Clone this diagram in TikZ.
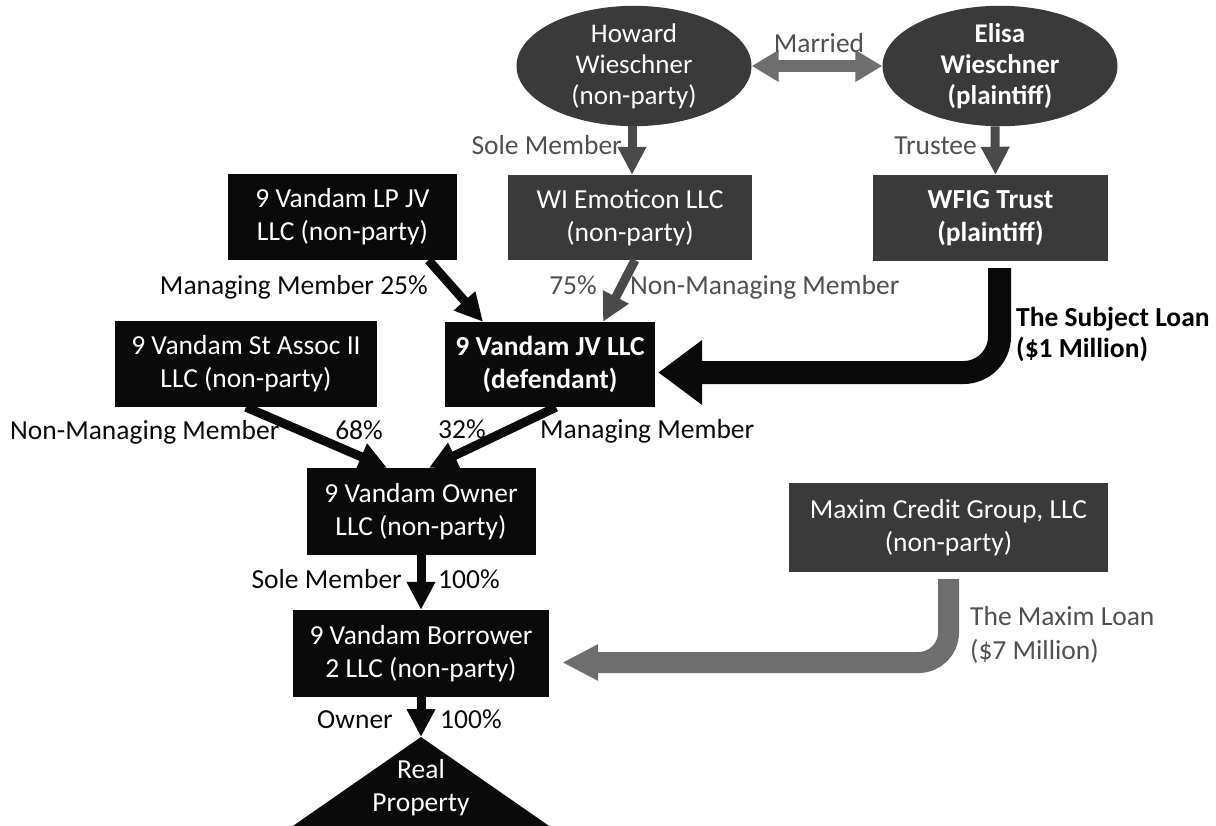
\documentclass[tikz,border=0pt]{standalone}
\usepackage{fontspec}
\setmainfont{Carlito}
\usepackage{tikz}
\usetikzlibrary{arrows.meta,shapes.geometric,calc}
\definecolor{chartInk}{HTML}{0A0A0A}
\definecolor{chartSlate}{HTML}{3A3A3A}
\definecolor{chartGrey}{HTML}{4A4A4A}
\definecolor{chartLoan}{HTML}{6E6E6E}
\definecolor{chartLabel}{HTML}{505050}
\tikzset{
  entity/.style={
    rectangle,
    fill=chartInk,
    text=white,
    inner sep=0pt,
    align=center,
    font=\fontsize{27.5}{33}\selectfont
  },
  entityGrey/.style={
    entity,
    fill=chartSlate
  },
  person/.style={
    ellipse,
    fill=chartSlate,
    text=white,
    inner sep=0pt,
    minimum width=235pt,
    minimum height=98pt,
    align=center,
    font=\fontsize{27}{31}\selectfont
  },
  tag/.style={
    inner sep=0pt,
    text=chartInk,
    text height=19pt,
    text depth=6pt,
    font=\fontsize{27.5}{33}\selectfont
  },
  tagGrey/.style={
    tag,
    text=chartLabel
  },
  ownArrow/.style={
    -{Triangle[length=28pt,width=27pt]},
    line width=9pt,
    draw=chartInk
  },
  ownArrowGrey/.style={
    ownArrow,
    draw=chartGrey
  },
  marriedArrow/.style={
    {Triangle[length=27pt,width=30pt]}-{Triangle[length=27pt,width=30pt]},
    line width=12pt,
    draw=chartLoan
  },
  subjectLoan/.style={
    -{Triangle[length=44pt,width=62pt]},
    line width=23pt,
    rounded corners=36pt,
    draw=chartInk
  },
  maximLoan/.style={
    -{Triangle[length=36pt,width=34pt]},
    line width=21pt,
    rounded corners=30pt,
    draw=chartLoan
  }
}

\begin{document}
\begin{tikzpicture}[x=1pt,y=-1pt]
  \useasboundingbox (0,0) rectangle (1216,825);
  \fill[white] (0,0) rectangle (1216,825);
  \clip (0,0) rectangle (1216,825);

  % people
  \node[person] (howard) at (634,66) {Howard\\Wieschner\\(non-party)};
  \node[person,font=\fontsize{27}{31}\selectfont\bfseries] (elisa) at (1000,66) {Elisa\\Wieschner\\(plaintiff)};

  % entities
  \node[entityGrey,minimum width=244pt,minimum height=85pt] (emoticon) at (630,217.5) {WI Emoticon LLC\\(non-party)};
  \node[entityGrey,minimum width=235pt,minimum height=86pt,font=\fontsize{27.5}{33}\selectfont\bfseries] (wfig) at (990.5,218) {WFIG Trust\\(plaintiff)};
  \node[entity,minimum width=229pt,minimum height=86pt] (lpjv) at (342.5,217) {9 Vandam LP JV\\LLC (non-party)};
  \node[entity,minimum width=210pt,minimum height=85pt,font=\fontsize{27.5}{33}\selectfont\bfseries] (jvllc) at (550,364.5) {9 Vandam JV LLC\\(defendant)};
  \node[entity,minimum width=262pt,minimum height=86pt] (stassoc) at (246,364) {9 Vandam St Assoc II\\LLC (non-party)};
  \node[entity,minimum width=229pt,minimum height=87pt] (owner) at (421,511.5) {9 Vandam Owner\\LLC (non-party)};
  \node[entity,minimum width=256pt,minimum height=87pt] (borrower) at (421,653.5) {9 Vandam Borrower\\2 LLC (non-party)};
  \node[entityGrey,minimum width=319pt,minimum height=89pt] (maxim) at (948.5,527.5) {Maxim Credit Group, LLC\\(non-party)};

  % real property
  \coordinate (apex) at (421,737);
  \fill[chartInk] (apex) -- ++(-180,125) -- ++(360,0) -- cycle;
  \node[entity,fill=none] (property) at (421,788) {Real\\Property};

  % ownership links
  \draw[marriedArrow] (howard.east) -- (elisa.west);
  \draw[ownArrowGrey] ($(howard.south)+(-2,0)$) -- ($(emoticon.north)+(2,0)$);
  \draw[ownArrowGrey] ($(elisa.south)+(-5,0)$) -- ($(wfig.north)+(5,0)$);
  \draw[ownArrow] ($(lpjv.south)+(86,0)$) -- ($(jvllc.north)+(-67,0)$);
  \draw[ownArrowGrey] ($(emoticon.south)+(5,0)$) -- ($(jvllc.north)+(53,0)$);
  \draw[ownArrow] (stassoc.south) -- ($(owner.north)+(-34,0)$);
  \draw[ownArrow] ($(jvllc.south)+(6,0)$) -- ($(owner.north)+(8,0)$);
  \draw[ownArrow] (owner.south) -- (borrower.north);
  \draw[ownArrow] (borrower.south) -- (apex);

  % loans
  \draw[subjectLoan] ($(wfig.south)+(9,7)$) |- ($(jvllc.east)+(3,8)$);
  \draw[maximLoan] ($(maxim.south)+(0,7)$) |- ($(borrower.east)+(13,9)$);

  % labels
  \node[tagGrey] (lblMarried) at (819,46) {Married};
  \node[tagGrey,anchor=east] (lblSoleTop) at (622,148) {Sole Member};
  \node[tagGrey,anchor=east] (lblTrustee) at (977,148) {Trustee};
  \node[tag,anchor=east] (lblManaging) at (428,288) {Managing Member 25\%};
  \node[tagGrey,anchor=east] (lblSeventyFive) at (597,288) {75\%};
  \node[tagGrey,anchor=west] (lblNonTop) at (630,288) {Non-Managing Member};
  \node[tag,anchor=west] (lblNonLow) at (10,433) {Non-Managing Member};
  \node[tag,anchor=east] (lblSixtyEight) at (383,433) {68\%};
  \node[tag,anchor=west] (lblThirtyTwo) at (438,432) {32\%};
  \node[tag,anchor=west] (lblManagingLow) at (540,432) {Managing Member};
  \node[tag,anchor=east] (lblSoleLow) at (402,582) {Sole Member};
  \node[tag,anchor=west] (lblHundredA) at (438,582) {100\%};
  \node[tag,anchor=east] (lblOwner) at (393,722) {Owner};
  \node[tag,anchor=west] (lblHundredB) at (440,722) {100\%};
  \node[inner sep=0pt,anchor=west,align=left,font=\fontsize{27.5}{31}\selectfont\bfseries] (lblSubject) at (1016,334) {The Subject Loan\\(\$1 Million)};
  \node[inner sep=0pt,anchor=west,align=left,text=chartLabel,font=\fontsize{27.5}{34}\selectfont] (lblMaxim) at (970,635) {The Maxim Loan\\(\$7 Million)};
\end{tikzpicture}
\end{document}
